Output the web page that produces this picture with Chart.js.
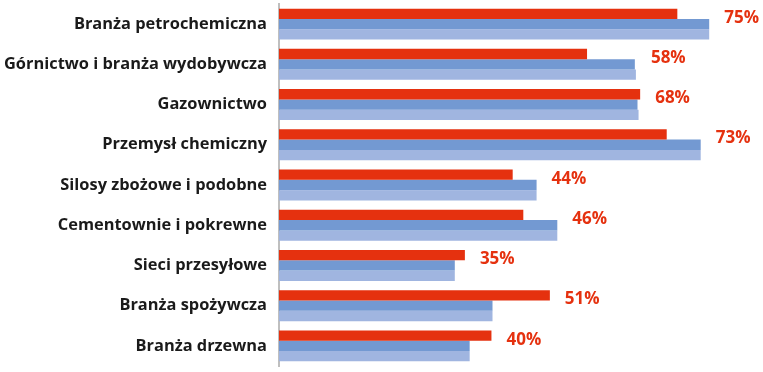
<!DOCTYPE html>
<html>
<head>
<meta charset="utf-8">
<script src="https://cdn.jsdelivr.net/npm/chart.js@4"></script>
<style>
  html, body { margin: 0; padding: 0; background: #fff; }
  #wrap { width: 763px; height: 372px; }
</style>
</head>
<body>
<div id="wrap"><canvas id="myChart"></canvas></div>
<script>
const categories = [
  "Branża petrochemiczna",
  "Górnictwo i branża wydobywcza",
  "Gazownictwo",
  "Przemysł chemiczny",
  "Silosy zbożowe i podobne",
  "Cementownie i pokrewne",
  "Sieci przesyłowe",
  "Branża spożywcza",
  "Branża drzewna"
];
const redValues = [75, 58, 68, 73, 44, 46, 35, 51, 40];
const blueValues = [81, 67, 67.5, 79.4, 48.5, 52.4, 33.1, 40.2, 35.9];
const lightBlueValues = [81, 67.2, 67.7, 79.4, 48.5, 52.4, 33.1, 40.2, 35.9];

// percent labels drawn to the right of the longest bar in each row
const valueLabels = {
  id: "valueLabels",
  afterDatasetsDraw(chart) {
    const ctx = chart.ctx;
    const metas = [0, 1, 2].map(i => chart.getDatasetMeta(i));
    ctx.save();
    ctx.font = "bold 17px 'Open Sans'";
    ctx.fillStyle = "#e5310f";
    ctx.textAlign = "left";
    ctx.textBaseline = "middle";
    redValues.forEach((v, i) => {
      let end = Math.max(...metas.map(m => m.data[i].x));
      let red = metas[0].data[i];
      ctx.fillText(v + "%", end + 15, red.y + red.height / 2 - 1);
    });
    ctx.restore();
  }
};

new Chart(document.getElementById("myChart"), {
  type: "bar",
  data: {
    labels: categories,
    datasets: [
      { data: redValues, backgroundColor: "#e5310f" },
      { data: blueValues, backgroundColor: "#7399d2" },
      { data: lightBlueValues, backgroundColor: "#a0b5e0" }
    ]
  },
  options: {
    indexAxis: "y",
    responsive: true,
    maintainAspectRatio: false,
    animation: false,
    barPercentage: 1,
    categoryPercentage: 0.77,
    layout: { padding: { top: 4, bottom: 6, right: 6 } },
    plugins: {
      legend: { display: false },
      tooltip: { enabled: false }
    },
    scales: {
      x: { display: false, min: 0, max: 90 },
      y: {
        afterFit: s => {
          s.width = 279;
          s.paddingTop = 0;
          s.paddingBottom = 0;
        },
        grid: { color: "transparent", drawTicks: false },
        border: { display: true, color: "#bfbfbf", width: 2 },
        ticks: {
          padding: 12,
          color: "#1a1a1a",
          font: { family: "'Open Sans'", size: 16.4, weight: "bold" }
        }
      }
    }
  },
  plugins: [valueLabels]
});
</script>
</body>
</html>
